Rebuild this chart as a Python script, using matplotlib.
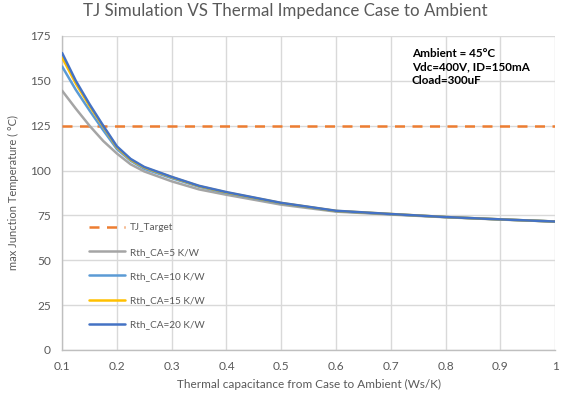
import matplotlib
matplotlib.use("Agg")
import matplotlib.pyplot as plt

plt.rcParams['font.family'] = ['Lato', 'DejaVu Sans']

# Data
x = [0.1, 0.125, 0.15, 0.175, 0.2, 0.225, 0.25, 0.3, 0.35, 0.4, 0.5, 0.6, 0.7, 0.8, 0.9, 1.0]
rth5 = [144.5, 134.5, 125.0, 116.5, 109.5, 103.5, 99.5, 94.0, 89.5, 86.5, 81.0, 77.1, 75.5, 74.0, 72.7, 71.6]
rth10 = [158.0, 145.0, 133.5, 122.5, 112.0, 105.5, 101.0, 95.8, 91.0, 87.5, 81.7, 77.4, 75.7, 74.1, 72.8, 71.6]
rth15 = [163.0, 148.5, 136.0, 124.5, 113.0, 106.0, 101.7, 96.3, 91.3, 87.8, 81.9, 77.5, 75.8, 74.1, 72.8, 71.6]
rth20 = [165.5, 150.0, 137.0, 125.0, 113.5, 106.5, 102.0, 96.5, 91.5, 88.0, 82.0, 77.6, 75.8, 74.1, 72.8, 71.6]
tj_target = 125

series_labels = ['Rth_CA=5 K/W', 'Rth_CA=10 K/W', 'Rth_CA=15 K/W', 'Rth_CA=20 K/W']
series_colors = ['#A5A5A5', '#5B9BD5', '#FFC000', '#4472C4']

x_ticks = [0.1, 0.2, 0.3, 0.4, 0.5, 0.6, 0.7, 0.8, 0.9, 1.0]
x_ticklabels = ['0.1', '0.2', '0.3', '0.4', '0.5', '0.6', '0.7', '0.8', '0.9', '1']
y_ticks = [0, 25, 50, 75, 100, 125, 150, 175]

fig = plt.figure(figsize=(5.7, 4.0), dpi=100)
ax = fig.add_axes([0.109, 0.125, 0.865, 0.785])

txt = '#595959'
grid = '#D9D9D9'

ax.plot([x[0], x[-1]], [tj_target, tj_target], color='#ED7D31', lw=1.8,
        linestyle=(0, (4, 3)), label='TJ_Target', zorder=3)
for ys, lab, col in zip([rth5, rth10, rth15, rth20], series_labels, series_colors):
    ax.plot(x, ys, color=col, lw=1.8, label=lab, zorder=4, solid_capstyle='round')

ax.set_xlim(0.1, 1.0)
ax.set_ylim(0, 175)
ax.set_xticks(x_ticks)
ax.set_xticklabels(x_ticklabels)
ax.set_yticks(y_ticks)
ax.grid(True, color=grid, lw=1.0)
ax.set_axisbelow(True)
for s in ['top', 'right']:
    ax.spines[s].set_visible(False)
for s in ['left', 'bottom']:
    ax.spines[s].set_color('#BFBFBF')
    ax.spines[s].set_linewidth(1.0)
ax.tick_params(axis='x', length=0, colors=txt, labelsize=8.6, pad=8)
ax.tick_params(axis='y', length=0, colors=txt, labelsize=8.6, pad=8)

ax.set_xlabel('Thermal capacitance from Case to Ambient (Ws/K)', color=txt, fontsize=8.5, labelpad=5)
ax.set_ylabel('max Junction Temperature ( °C)', color=txt, fontsize=8.0, labelpad=8)
fig.suptitle('TJ Simulation VS Thermal Impedance Case to Ambient', color=txt, fontsize=12.2,
             x=0.5, y=0.993)

leg = ax.legend(loc='lower left', bbox_to_anchor=(0.045, 0.05), frameon=False, borderpad=0,
                fontsize=7.2, handlelength=3.6, labelspacing=1.52, handletextpad=0.45)
for t in leg.get_texts():
    t.set_color(txt)

ax.text(0.709, 0.962, 'Ambient = 45°C\nVdc=400V, ID=150mA\nCload=300uF', transform=ax.transAxes,
        fontsize=8.4, fontweight='bold', color='#000000', va='top', ha='left', linespacing=1.3)

fig.savefig('out.png', dpi=100)
